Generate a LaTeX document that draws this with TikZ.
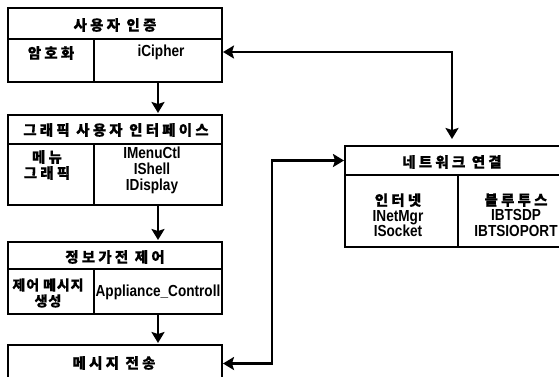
\documentclass[tikz,border=0pt]{standalone}
\usepackage{fontspec}
\setmainfont{Liberation Sans}[FakeStretch=0.85]
\newfontfamily\krfont{Noto Sans CJK KR}[LetterSpace=22,FakeBold=0.6]
\newfontfamily\krtight{Noto Sans CJK KR}[LetterSpace=6,FakeBold=0.6]
\newcommand\KRtxt[1]{{\krfont\bfseries\fontsize{14.5}{15.5}\selectfont #1}}
\usetikzlibrary{arrows.meta}
\tikzset{
  cell/.style={draw, line width=1.1pt, anchor=north west, inner sep=0pt, outer sep=0pt},
  lat/.style={inner sep=0pt, align=center, font=\bfseries\fontsize{16}{16}\selectfont},
  kor/.style={inner sep=0pt, align=center, font=\krfont\bfseries\fontsize{14.5}{16}\selectfont},
  conn/.style={line width=2.6pt, {Stealth[length=11pt,width=13pt,inset=2pt]}-{Stealth[length=11pt,width=13pt,inset=2pt]}},
  down/.style={line width=2.6pt, -{Stealth[length=11pt,width=13pt,inset=2pt]}, shorten >=2pt},
}
\begin{document}
\begin{tikzpicture}[x=1pt,y=-1pt]
\useasboundingbox (0,0) rectangle (559,376);
\clip (0,0) rectangle (559,376);
% box 1
\node[cell, minimum width=214pt, minimum height=31pt] (t1) at (8,8) {};
\node[cell, minimum width=86pt, minimum height=43pt] (a1) at (8,39) {};
\node[cell, minimum width=128pt, minimum height=43pt] (b1) at (94,39) {};
\node[kor] (t1x) at (115,25) {사용자 인증};
\node[kor] (a1x) at (51,53) {암호화};
\node[lat] (b1x) at (161,52) {iCipher};
% box 2
\node[cell, minimum width=214pt, minimum height=29pt] (t2) at (8,115) {};
\node[cell, minimum width=86pt, minimum height=61pt] (a2) at (8,144) {};
\node[cell, minimum width=128pt, minimum height=61pt] (b2) at (94,144) {};
\node[kor] (t2x) at (116,130) {그래픽 사용자 인터페이스};
\node[kor] (a2x) at (47,165) {메뉴\\그래픽};
\node[lat] (b2x) at (152,170) {IMenuCtl\\IShell\\IDisplay};
% box 3
\node[cell, minimum width=214pt, minimum height=27pt] (t3) at (8,242) {};
\node[cell, minimum width=86pt, minimum height=45pt] (a3) at (8,269) {};
\node[cell, minimum width=128pt, minimum height=45pt] (b3) at (94,269) {};
\node[kor] (t3x) at (115,257) {정보가전 제어};
\node[kor, font=\krtight\bfseries\fontsize{14}{16}\selectfont] (a3x) at (48,293) {제어 메시지\\생성};
\node[lat] (b3x) at (158,292) {Appliance\_Controll};
% box 4
\node[cell, minimum width=214pt, minimum height=37pt] (t4) at (8,345) {};
\node[kor] (t4x) at (114,363) {메시지 전송};
% network box
\node[cell, minimum width=217pt, minimum height=29pt] (tn) at (345,146) {};
\node[cell, minimum width=113pt, minimum height=72pt] (an) at (345,175) {};
\node[cell, minimum width=104pt, minimum height=72pt] (bn) at (458,175) {};
\node[kor] (tnx) at (452,162) {네트워크 연결};
\node[lat, font=\bfseries\fontsize{16}{15.5}\selectfont] (anx) at (398,215) {\KRtxt{인터넷}\\INetMgr\\ISocket};
\node[lat, font=\bfseries\fontsize{16}{15.5}\selectfont] (bnx) at (516,215) {\KRtxt{블루투스}\\IBTSDP\\IBTSIOPORT};
% coordinates
\coordinate (cB) at (272,0);
% connectors
\draw[down] (b1.south) -- (b1.south |- t2.north);
\draw[down] (b2.south) -- (b2.south |- t3.north);
\draw[down] (b3.south) -- (b3.south |- t4.north);
\draw[conn, shorten <=7pt, shorten >=1pt] (tnx |- tn.north) |- (b1.east |- b1x);
\draw[conn, shorten <=1pt, shorten >=1pt] (tn.west) -- (tn.west -| cB) |- (t4.east);
\end{tikzpicture}
\end{document}
